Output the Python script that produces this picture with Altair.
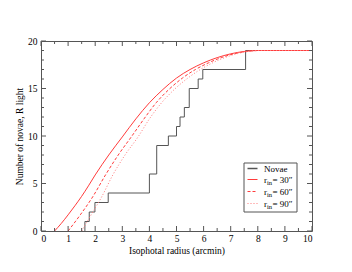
import altair as alt
import pandas as pd

# ---- data ----
step_x = [1.62, 1.78, 1.99, 2.48, 4.0, 4.27, 4.7, 5.0, 5.13, 5.29, 5.47, 5.8, 5.97, 7.55]
step_n = [1, 2, 3, 4, 6, 9, 10, 11, 12, 13, 15, 16, 17, 19]
x_end = 10

r30_x = [0.5, 0.75, 1.0, 1.25, 1.5, 1.75, 2.0, 2.5, 3.0, 3.5, 4.0, 4.5, 5.0, 5.5, 6.0, 6.5, 7.0, 7.5, 8.0, 9.0, 10.0]
r30_y = [0, 0.8, 1.7, 2.65, 3.65, 4.75, 5.9, 8.0, 9.9, 11.8, 13.5, 14.9, 16.1, 17.0, 17.7, 18.25, 18.65, 18.9, 19.0, 19.0, 19.0]

r60_x = [1.0, 1.45, 1.92, 2.38, 2.85, 3.33, 3.8, 4.25, 4.72, 5.22, 5.7, 6.18, 6.65, 7.12, 7.58, 8.0, 10.0]
r60_y = [0, 1.7, 3.65, 5.9, 8.0, 9.9, 11.8, 13.5, 14.9, 16.1, 17.0, 17.7, 18.25, 18.65, 18.9, 19.0, 19.0]

r90_x = [1.5, 1.85, 2.25, 2.65, 3.1, 3.58, 4.0, 4.45, 4.92, 5.42, 5.88, 6.33, 6.78, 7.22, 7.65, 8.05, 10.0]
r90_y = [0, 1.7, 3.65, 5.9, 8.0, 9.9, 11.8, 13.5, 14.9, 16.1, 17.0, 17.7, 18.25, 18.65, 18.9, 19.0, 19.0]

x_major = [0, 1, 2, 3, 4, 5, 6, 7, 8, 9, 10]
x_minor = [0.5, 1.5, 2.5, 3.5, 4.5, 5.5, 6.5, 7.5, 8.5, 9.5]
y_major = [0, 5, 10, 15, 20]
y_minor = [1, 2, 3, 4, 6, 7, 8, 9, 11, 12, 13, 14, 16, 17, 18, 19]

legend_main = ["Novae", "r", "r", "r"]
legend_sub = ["", "in", "in", "in"]
legend_rest = ["", "= 30\u2033", "= 60\u2033", "= 90\u2033"]

# ---- styling ----
FONT = "Liberation Serif"
W, H = 271, 190
FRAME = "#555555"
GRAY = "#555555"
RED = "#ff3b3b"
PINK = "#ff7a7a"

xs = alt.Scale(domain=[0, 10], nice=False, zero=False)
ys = alt.Scale(domain=[0, 20], nice=False, zero=False)
xaxis = alt.Axis(values=x_major, format="d", labelPadding=2, titlePadding=3,
                 title="Isophotal radius (arcmin)")
yaxis = alt.Axis(values=y_major, format="d", labelPadding=4, titlePadding=3,
                 title="Number of novae, R light")

def X(f="x"):
    return alt.X(f"{f}:Q", scale=xs, axis=xaxis)

def Y(f="y"):
    return alt.Y(f"{f}:Q", scale=ys, axis=yaxis)

# step line (step-before: vertical first, then horizontal)
novae_df = pd.DataFrame({"x": step_x + [x_end], "y": [0] + step_n})
novae = alt.Chart(novae_df).mark_line(interpolate="step-before", color=GRAY, strokeWidth=1).encode(
    x=X(), y=Y(), order="x:Q")

def curve(xv, yv, color, dash):
    df = pd.DataFrame({"x": xv, "y": yv})
    kw = dict(interpolate="monotone", color=color, strokeWidth=1)
    if dash:
        kw["strokeDash"] = dash
    return alt.Chart(df).mark_line(**kw).encode(x=X(), y=Y(), order="x:Q")

c30 = curve(r30_x, r30_y, RED, None)
c60 = curve(r60_x, r60_y, RED, [3, 2])
c90 = curve(r90_x, r90_y, PINK, [1, 2])

# inward ticks
def xticks(vals, L):
    df = pd.DataFrame({"x": vals})
    b = alt.Chart(df).mark_rule(color=FRAME, strokeWidth=1).encode(
        x=X(), y=alt.value(H), y2=alt.value(H - L))
    t = alt.Chart(df).mark_rule(color=FRAME, strokeWidth=1).encode(
        x=X(), y=alt.value(0), y2=alt.value(L))
    return [b, t]

def yticks(vals, L):
    df = pd.DataFrame({"y": vals})
    l = alt.Chart(df).mark_rule(color=FRAME, strokeWidth=1).encode(
        y=Y(), x=alt.value(0), x2=alt.value(L))
    r = alt.Chart(df).mark_rule(color=FRAME, strokeWidth=1).encode(
        y=Y(), x=alt.value(W), x2=alt.value(W - L))
    return [l, r]

tick_layers = xticks(x_major, 5) + xticks(x_minor, 3) + yticks(y_major, 5) + yticks(y_minor, 3)

# manual legend
leg_df = pd.DataFrame({"k": [0]})
box = alt.Chart(leg_df).mark_rect(fill="white", stroke=FRAME, strokeWidth=1).encode(
    x=alt.value(203), x2=alt.value(256), y=alt.value(122), y2=alt.value(171))

row_y = [127.5, 138.5, 150.5, 162.5]
styles = [(GRAY, None, 1.5), (RED, None, 1), (RED, [3, 2], 1), (PINK, [1, 2], 1)]
legend_layers = [box]
for i in range(4):
    col, dash, sw = styles[i]
    kw = dict(color=col, strokeWidth=sw)
    if dash:
        kw["strokeDash"] = dash
    legend_layers.append(alt.Chart(leg_df).mark_rule(**kw).encode(
        x=alt.value(206.5), x2=alt.value(216.5), y=alt.value(row_y[i]), y2=alt.value(row_y[i])))
    legend_layers.append(alt.Chart(leg_df).mark_text(
        text=legend_main[i], font=FONT, fontSize=9, align="left", baseline="middle", color="black"
    ).encode(x=alt.value(223), y=alt.value(row_y[i])))
    if legend_sub[i]:
        legend_layers.append(alt.Chart(leg_df).mark_text(
            text=legend_sub[i], font=FONT, fontSize=6.5, align="left", baseline="middle", color="black"
        ).encode(x=alt.value(226), y=alt.value(row_y[i] + 3)))
        legend_layers.append(alt.Chart(leg_df).mark_text(
            text=legend_rest[i], font=FONT, fontSize=9, align="left", baseline="middle", color="black"
        ).encode(x=alt.value(231.5), y=alt.value(row_y[i])))

chart = alt.layer(novae, c30, c60, c90, *tick_layers, *legend_layers).properties(
    width=W, height=H,
    padding={"left": 33, "top": 33, "right": 30, "bottom": 30},
    autosize="none",
).configure_view(stroke=FRAME, strokeWidth=1).configure_axis(
    labelFont=FONT, titleFont=FONT, labelFontSize=9.5, titleFontSize=9.5,
    labelColor="black", titleColor="black", titleFontWeight="normal",
    domain=False, ticks=False, grid=False,
)

chart.save("out.html", embed_options={"renderer": "svg", "actions": False})
